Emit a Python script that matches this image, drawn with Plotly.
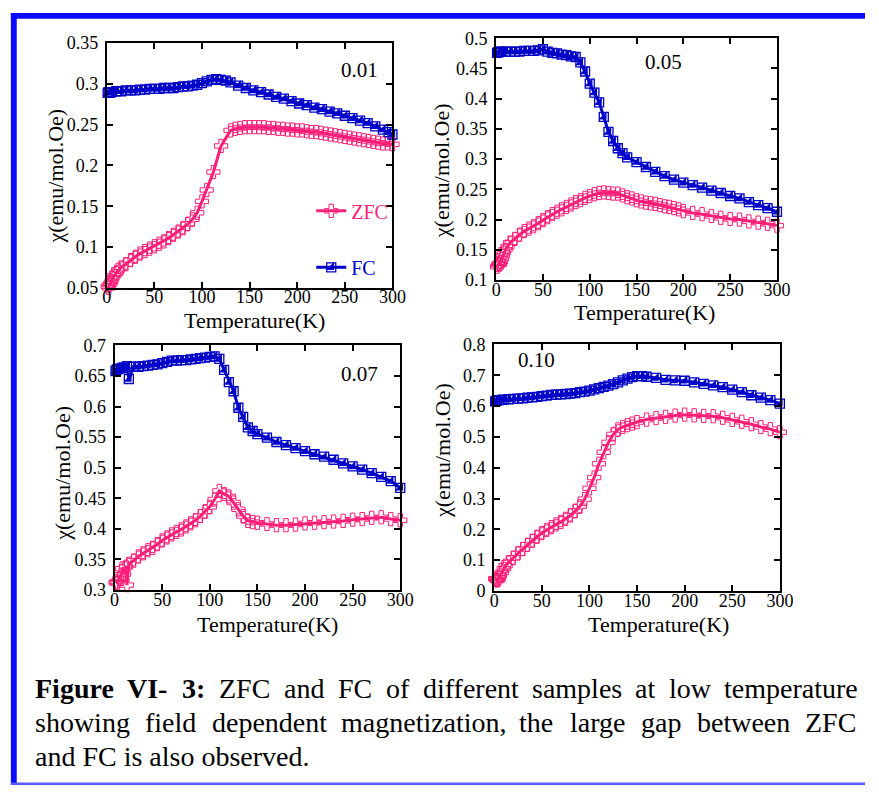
import plotly.graph_objects as go

W, H = 879, 795

# ---------------- data ----------------
# Panel "0.01"
T_fc1 = [1, 2, 3, 4, 5, 10, 15, 20, 25, 30, 35, 40, 45, 50, 55, 60, 65, 70, 75, 80, 85, 90, 95, 100,
         105, 110, 115, 120, 125, 130, 138, 146, 154, 162, 170, 178, 186, 194, 202, 210, 218, 226,
         234, 242, 250, 258, 266, 274, 282, 290, 296, 300]
fc1 = [0.289, 0.290, 0.289, 0.290, 0.290, 0.291, 0.291, 0.292, 0.292, 0.292, 0.293, 0.293, 0.294,
       0.294, 0.294, 0.295, 0.295, 0.295, 0.296, 0.297, 0.297, 0.298, 0.299, 0.301, 0.303, 0.305,
       0.306, 0.305, 0.304, 0.302, 0.298, 0.295, 0.292, 0.290, 0.287, 0.284, 0.282, 0.279, 0.276,
       0.274, 0.271, 0.269, 0.266, 0.264, 0.261, 0.258, 0.255, 0.252, 0.248, 0.244, 0.241, 0.238]
T_zfc1 = [1, 2, 3, 4, 5, 6, 8, 10, 12, 15, 20, 25, 30, 35, 40, 45, 50, 55, 60, 65, 70, 75, 80, 85,
          90, 95, 100, 105, 112, 120, 130, 135, 140, 145, 150, 155, 160, 165, 170, 175, 180, 185,
          190, 195, 200, 205, 210, 215, 220, 225, 230, 235, 240, 245, 250, 255, 260, 265, 270, 275,
          280, 285, 290, 295, 300]
zfc1 = [0.052, 0.050, 0.054, 0.056, 0.058, 0.062, 0.065, 0.068, 0.072, 0.075, 0.079, 0.084, 0.088,
        0.092, 0.095, 0.098, 0.101, 0.104, 0.107, 0.111, 0.115, 0.119, 0.123, 0.128, 0.134, 0.142,
        0.156, 0.170, 0.192, 0.224, 0.243, 0.245, 0.246, 0.247, 0.247, 0.247, 0.247, 0.247, 0.246,
        0.246, 0.245, 0.245, 0.244, 0.244, 0.243, 0.243, 0.242, 0.241, 0.241, 0.240, 0.239, 0.238,
        0.237, 0.236, 0.235, 0.234, 0.233, 0.232, 0.231, 0.230, 0.229, 0.228, 0.227, 0.227, 0.226]

# Panel "0.05"
T_fc2 = [1, 2, 3, 4, 5, 10, 15, 20, 25, 30, 35, 40, 45, 50, 55, 60, 65, 70, 75, 80, 85, 90, 95, 100,
         105, 110, 115, 120, 125, 130, 135, 140, 150, 160, 170, 180, 190, 200, 210, 220, 230, 240,
         250, 260, 270, 280, 290, 300]
fc2 = [0.476, 0.477, 0.477, 0.478, 0.478, 0.478, 0.478, 0.478, 0.478, 0.479, 0.479, 0.479, 0.480,
       0.482, 0.478, 0.476, 0.475, 0.473, 0.472, 0.470, 0.469, 0.460, 0.445, 0.425, 0.410, 0.394,
       0.370, 0.345, 0.330, 0.318, 0.310, 0.303, 0.295, 0.287, 0.279, 0.272, 0.266, 0.261, 0.257,
       0.253, 0.248, 0.244, 0.239, 0.235, 0.229, 0.224, 0.219, 0.213]
T_zfc2 = [1, 2, 3, 4, 5, 6, 7, 8, 10, 12, 15, 20, 25, 30, 35, 40, 45, 50, 55, 60, 65, 70, 75, 80, 85,
          90, 95, 100, 105, 110, 115, 120, 125, 130, 135, 140, 145, 150, 155, 160, 165, 170, 175,
          180, 185, 190, 195, 200, 210, 220, 230, 240, 250, 260, 270, 280, 290, 300]
zfc2 = [0.122, 0.125, 0.127, 0.126, 0.130, 0.135, 0.140, 0.145, 0.150, 0.155, 0.162, 0.168, 0.175,
        0.181, 0.185, 0.189, 0.194, 0.199, 0.204, 0.209, 0.213, 0.217, 0.221, 0.225, 0.229, 0.232,
        0.236, 0.239, 0.242, 0.244, 0.245, 0.244, 0.243, 0.243, 0.240, 0.237, 0.235, 0.232, 0.230,
        0.228, 0.227, 0.226, 0.224, 0.222, 0.221, 0.219, 0.217, 0.214, 0.211, 0.209, 0.206, 0.203,
        0.201, 0.200, 0.197, 0.195, 0.193, 0.190]

# Panel "0.07"
T_fc3 = [1, 2, 3, 5, 8, 10, 13, 15, 20, 25, 30, 35, 40, 45, 50, 55, 60, 65, 70, 75, 80, 85, 90, 95,
         100, 105, 110, 115, 120, 125, 130, 135, 140, 145, 150, 160, 170, 180, 190, 200, 210, 220,
         230, 240, 250, 260, 270, 280, 290, 300]
fc3 = [0.658, 0.660, 0.661, 0.662, 0.663, 0.664, 0.666, 0.645, 0.665, 0.665, 0.666, 0.667, 0.668,
       0.669, 0.671, 0.673, 0.675, 0.675, 0.676, 0.676, 0.677, 0.678, 0.679, 0.680, 0.681, 0.682,
       0.678, 0.660, 0.640, 0.625, 0.598, 0.583, 0.566, 0.560, 0.555, 0.549, 0.542, 0.537, 0.532,
       0.527, 0.522, 0.518, 0.513, 0.507, 0.502, 0.497, 0.491, 0.485, 0.478, 0.467]
T_zfc3 = [1, 2, 3, 5, 7, 8, 10, 12, 13, 15, 20, 25, 30, 35, 40, 45, 50, 55, 60, 65, 70, 75, 80, 85,
          90, 95, 100, 105, 110, 115, 120, 125, 130, 135, 140, 145, 150, 160, 170, 180, 190, 200,
          210, 220, 230, 240, 250, 260, 270, 280, 290, 300]
zfc3 = [0.312, 0.314, 0.311, 0.318, 0.325, 0.335, 0.326, 0.338, 0.308, 0.343, 0.348, 0.355, 0.360,
        0.365, 0.369, 0.375, 0.381, 0.386, 0.391, 0.395, 0.399, 0.404, 0.409, 0.414, 0.421, 0.428,
        0.436, 0.448, 0.462, 0.457, 0.453, 0.443, 0.432, 0.421, 0.413, 0.411, 0.410, 0.408, 0.406,
        0.406, 0.407, 0.409, 0.410, 0.411, 0.412, 0.413, 0.415, 0.416, 0.418, 0.419, 0.416, 0.414]

# Panel "0.10"
T_fc4 = [1, 2, 3, 5, 8, 10, 15, 20, 25, 30, 35, 40, 45, 50, 55, 60, 65, 70, 75, 80, 85, 90, 95, 100,
         105, 110, 115, 120, 125, 130, 135, 140, 145, 150, 155, 160, 170, 180, 190, 200, 210, 220,
         230, 240, 250, 260, 270, 280, 290, 300]
fc4 = [0.615, 0.617, 0.618, 0.619, 0.620, 0.621, 0.622, 0.623, 0.624, 0.625, 0.627, 0.628, 0.630,
       0.632, 0.634, 0.636, 0.637, 0.638, 0.639, 0.640, 0.642, 0.645, 0.647, 0.650, 0.654, 0.658,
       0.662, 0.666, 0.671, 0.677, 0.683, 0.689, 0.694, 0.697, 0.697, 0.695, 0.691, 0.685, 0.683,
       0.682, 0.677, 0.672, 0.667, 0.661, 0.653, 0.645, 0.635, 0.627, 0.619, 0.608]
T_zfc4 = [1, 2, 3, 4, 5, 6, 8, 10, 12, 15, 20, 25, 30, 35, 40, 45, 50, 55, 60, 65, 70, 75, 80, 85,
          90, 95, 100, 105, 110, 115, 120, 125, 130, 135, 140, 145, 150, 160, 170, 180, 190, 200,
          210, 220, 230, 240, 250, 260, 270, 280, 290, 300]
zfc4 = [0.040, 0.037, 0.034, 0.036, 0.042, 0.050, 0.060, 0.072, 0.082, 0.092, 0.108, 0.122, 0.136,
        0.150, 0.163, 0.176, 0.188, 0.198, 0.207, 0.216, 0.224, 0.234, 0.245, 0.259, 0.275, 0.298,
        0.333, 0.368, 0.413, 0.450, 0.482, 0.508, 0.524, 0.532, 0.538, 0.543, 0.548, 0.556, 0.561,
        0.565, 0.569, 0.572, 0.570, 0.568, 0.567, 0.562, 0.555, 0.549, 0.541, 0.532, 0.525, 0.515]

panel_labels = ["0.01", "0.05", "0.07", "0.10"]
y_ranges = [[0.05, 0.35], [0.1, 0.5], [0.3, 0.7], [0.0, 0.8]]
y_dticks = [0.05, 0.05, 0.05, 0.1]
x_ticks = [0, 50, 100, 150, 200, 250, 300]
series_names = ["ZFC", "FC"]
x_title = "Temperature(K)"
y_title = "χ(emu/mol.Oe)"

caption_l1 = [("Figure", True), ("VI-", True), ("3:", True), ("ZFC", False), ("and", False),
              ("FC", False), ("of", False), ("different", False), ("samples", False), ("at", False),
              ("low", False), ("temperature", False)]
caption_l2 = ["showing", "field", "dependent", "magnetization,", "the", "large", "gap", "between", "ZFC"]
caption_l3 = "and FC is also observed."

# ---------------- layout helpers ----------------
def px(x):
    return x / W

def py(y):
    return 1 - y / H

PINK = "#ff1f78"
BLUE = "#0000c8"
SERIF = "Liberation Serif, Times New Roman, serif"

# plot boxes in pixels: left, right, top, bottom
boxes = [(104, 396, 34, 285), (502, 789, 29, 277), (112, 404, 344, 595), (500, 792, 343, 596)]

fig = go.Figure()
layout = {}
fc_sets = [(T_fc1, fc1), (T_fc2, fc2), (T_fc3, fc3), (T_fc4, fc4)]
zfc_sets = [(T_zfc1, zfc1), (T_zfc2, zfc2), (T_zfc3, zfc3), (T_zfc4, zfc4)]

for i in range(4):
    n = "" if i == 0 else str(i + 1)
    l, r, t, b = boxes[i]
    axstyle = dict(showline=True, linewidth=2, linecolor="black", mirror="ticks", ticks="inside",
                   ticklen=6, tickwidth=1.5, tickcolor="black", showgrid=False, zeroline=False,
                   tickfont=dict(family=SERIF, size=18, color="black"))
    layout["xaxis" + n] = dict(domain=[px(l), px(r)], range=[0, 300], tickvals=x_ticks,
                               anchor="y" + n, ticklabelstandoff=-8, **axstyle)
    layout["yaxis" + n] = dict(domain=[py(b), py(t)], range=y_ranges[i], dtick=y_dticks[i],
                               tick0=0, anchor="x" + n, ticklabelstandoff=3, **axstyle)
    Tz, vz = zfc_sets[i]
    Tf, vf = fc_sets[i]
    fig.add_trace(go.Scatter(x=Tz, y=vz, mode="lines+markers", name=series_names[0],
                             line=dict(color=PINK, width=3),
                             marker=dict(symbol="cross-open", size=11, color=PINK, line=dict(width=1)),
                             xaxis="x" + n, yaxis="y" + n, cliponaxis=False,
                             showlegend=(i == 0), legend="legend"))
    fig.add_trace(go.Scatter(x=Tf, y=vf, mode="lines+markers", name=series_names[1],
                             line=dict(color=BLUE, width=3),
                             marker=dict(symbol="square-open", size=9, color=BLUE, line=dict(width=1.3)),
                             xaxis="x" + n, yaxis="y" + n, cliponaxis=False,
                             showlegend=(i == 0), legend="legend2"))
    fig.add_trace(go.Scatter(x=Tf, y=vf, mode="markers", name=" ",
                             marker=dict(symbol="triangle-se", size=9, color=BLUE,
                                         line=dict(width=0)),
                             xaxis="x" + n, yaxis="y" + n, cliponaxis=False,
                             showlegend=(i == 0), legend="legend3"))

annotations = []
# axis titles
xt_pos = [(255, 319), (654, 310), (268, 630), (668, 630)]
yt_pos = [(52, 170), (447, 165), (58, 475), (447, 452)]
for i in range(4):
    annotations.append(dict(x=px(xt_pos[i][0]), y=py(xt_pos[i][1]), xref="paper", yref="paper",
                            text=x_title, showarrow=False, xanchor="center", yanchor="middle",
                            font=dict(family=SERIF, size=22, color="black")))
    annotations.append(dict(x=px(yt_pos[i][0]), y=py(yt_pos[i][1]), xref="paper", yref="paper",
                            text=y_title, showarrow=False, textangle=-90, xanchor="center",
                            yanchor="middle", font=dict(family=SERIF, size=22, color="black")))
# panel labels
lab_pos = [(362, 62), (673, 53), (362, 373), (543, 359)]
for i in range(4):
    annotations.append(dict(x=px(lab_pos[i][0]), y=py(lab_pos[i][1]), xref="paper", yref="paper",
                            text=panel_labels[i], showarrow=False, xanchor="center", yanchor="middle",
                            font=dict(family=SERIF, size=21, color="black")))

# caption with justified lines (Times metrics)
REG = {' ': 250, 'a': 444, 'b': 500, 'c': 444, 'd': 500, 'e': 444, 'f': 333, 'g': 500, 'h': 500,
       'i': 278, 'l': 278, 'm': 778, 'n': 500, 'o': 500, 'p': 500, 'r': 333, 's': 389, 't': 278,
       'u': 500, 'v': 500, 'w': 722, 'z': 444, 'Z': 611, 'F': 556, 'C': 667, ',': 250, '.': 250}
BOLD = {'F': 611, 'i': 278, 'g': 500, 'u': 556, 'r': 444, 'e': 444, 'V': 722, 'I': 389, '-': 333,
        '3': 500, ':': 333, ' ': 250}
CAP_SIZE = 28

def wwidth(word, bold):
    tab = BOLD if bold else REG
    return sum(tab.get(c, 500) for c in word) * CAP_SIZE / 1000.0

def justify(words, y, x0=30, x1=868):
    widths = [wwidth(w, b) for w, b in words]
    gap = (x1 - x0 - sum(widths)) / (len(words) - 1)
    x = x0
    for (w, b), wd in zip(words, widths):
        txt = "<b>%s</b>" % w if b else w
        annotations.append(dict(x=px(x), y=py(y), xref="paper", yref="paper", text=txt,
                                showarrow=False, xanchor="left", yanchor="middle", borderpad=0,
                                font=dict(family=SERIF, size=CAP_SIZE, color="black")))
        x += wd + gap

justify(caption_l1, 696)
justify([(w, False) for w in caption_l2], 731)
annotations.append(dict(x=px(30), y=py(766), xref="paper", yref="paper", text=caption_l3,
                        showarrow=False, xanchor="left", yanchor="middle", borderpad=0,
                        font=dict(family=SERIF, size=CAP_SIZE, color="black")))

shapes = [
    dict(type="rect", xref="paper", yref="paper", x0=px(6), x1=px(879), y0=py(9), y1=py(3),
         fillcolor="#0a0aff", line=dict(width=0)),
    dict(type="rect", xref="paper", yref="paper", x0=px(6), x1=px(12), y0=py(795), y1=py(3),
         fillcolor="#0a0aff", line=dict(width=0)),
    dict(type="rect", xref="paper", yref="paper", x0=px(6), x1=px(879), y0=py(795), y1=py(792.5),
         fillcolor="#5a5aff", line=dict(width=0)),
]

leg_common = dict(xanchor="left", yanchor="middle", bgcolor="rgba(0,0,0,0)", itemwidth=30,
                  borderwidth=0)
fig.update_layout(
    width=W, height=H, margin=dict(l=0, r=0, t=0, b=0),
    paper_bgcolor="white", plot_bgcolor="white",
    annotations=annotations, shapes=shapes,
    legend=dict(x=px(313), y=py(206), font=dict(family=SERIF, size=20, color=PINK), **leg_common),
    legend2=dict(x=px(313), y=py(264), font=dict(family=SERIF, size=20, color=BLUE), **leg_common),
    legend3=dict(x=px(313), y=py(264), font=dict(family=SERIF, size=20, color=BLUE), **leg_common),
    **layout,
)

fig.write_html("out.html")
